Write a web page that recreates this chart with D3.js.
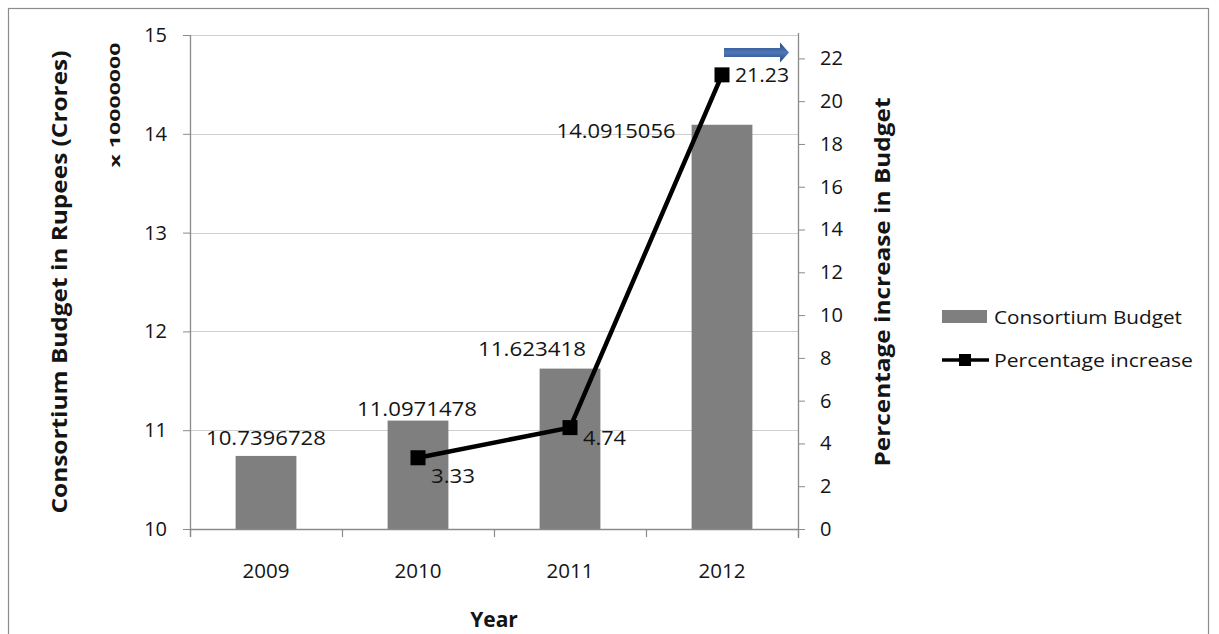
<!DOCTYPE html>
<html>
<head>
<meta charset="utf-8">
<script src="https://cdn.jsdelivr.net/npm/d3@7"></script>
<style>
  html, body { margin: 0; padding: 0; background: #fff; }
  svg { display: block; }
  text { font-family: "Open Sans", "Liberation Sans", sans-serif; fill: #141414; }
</style>
</head>
<body>
<svg id="chart" width="1219" height="634"></svg>
<script>
// ---- data ----
const years = ["2009", "2010", "2011", "2012"];
const budget = [10.7396728, 11.0971478, 11.623418, 14.0915056];
const budgetLabels = ["10.7396728", "11.0971478", "11.623418", "14.0915056"];
const pctYears = ["2010", "2011", "2012"];
const pctIncrease = [3.33, 4.74, 21.23];
const pctLabels = ["3.33", "4.74", "21.23"];
const leftTicks = [10, 11, 12, 13, 14, 15];
const rightTicks = [0, 2, 4, 6, 8, 10, 12, 14, 16, 18, 20, 22];
const seriesNames = ["Consortium Budget", "Percentage increase"];

// ---- layout ----
const L = 190, R = 798, T = 35, B = 529;
const barColor = "#7f7f7f";
const axisColor = "#8a8a8a";
const gridColor = "#cfcfcf";
const txt = "#141414";

const svg = d3.select("#chart");

// outer border
svg.append("rect").attr("x", 8.5).attr("y", 8.5).attr("width", 1200).attr("height", 640)
  .attr("fill", "none").attr("stroke", "#8c8c8c").attr("stroke-width", 1.2);

const x = d3.scaleBand().domain(years).range([L, R]).paddingInner(0.6).paddingOuter(0.3);
const yL = d3.scaleLinear().domain([10, 15]).range([B, T]);
const yR = d3.scaleLinear().domain([0, 23]).range([B, 37]);

// gridlines
svg.append("g").selectAll("line").data(leftTicks.filter(d => d > 10)).join("line")
  .attr("x1", L).attr("x2", R)
  .attr("y1", d => Math.round(yL(d)) + 0.5).attr("y2", d => Math.round(yL(d)) + 0.5)
  .attr("stroke", gridColor).attr("stroke-width", 1);

// bars
svg.append("g").selectAll("rect").data(years).join("rect")
  .attr("x", d => x(d))
  .attr("width", x.bandwidth())
  .attr("y", (d, i) => yL(budget[i]))
  .attr("height", (d, i) => B - yL(budget[i]))
  .attr("fill", barColor);

// left axis
const gLeft = svg.append("g").attr("transform", `translate(${L},0)`)
  .call(d3.axisLeft(yL).tickValues(leftTicks).tickSize(7).tickPadding(16).tickFormat(d3.format("d")));
gLeft.select(".domain").remove();
gLeft.selectAll(".tick line").attr("stroke", axisColor);
gLeft.selectAll(".tick text").attr("font-size", 20).attr("fill", txt)
  .style("font-family", '"Open Sans", sans-serif');
svg.append("line").attr("x1", L + 0.5).attr("x2", L + 0.5).attr("y1", T).attr("y2", B + 8)
  .attr("stroke", axisColor).attr("stroke-width", 1.3);

// right axis
const gRight = svg.append("g").attr("transform", `translate(${R},0)`)
  .call(d3.axisRight(yR).tickValues(rightTicks).tickSize(7).tickPadding(15).tickFormat(d3.format("d")));
gRight.select(".domain").remove();
gRight.selectAll(".tick line").attr("stroke", axisColor);
gRight.selectAll(".tick text").attr("font-size", 20).attr("fill", txt)
  .style("font-family", '"Open Sans", sans-serif');
svg.append("line").attr("x1", R + 0.5).attr("x2", R + 0.5).attr("y1", T - 2).attr("y2", B + 9)
  .attr("stroke", axisColor).attr("stroke-width", 1.3);

// x axis
svg.append("line").attr("x1", L).attr("x2", R).attr("y1", B + 0.5).attr("y2", B + 0.5)
  .attr("stroke", axisColor).attr("stroke-width", 1.3);
svg.append("g").selectAll("line").data(d3.range(years.length + 1)).join("line")
  .attr("x1", i => L + i * x.step() + 0.5).attr("x2", i => L + i * x.step() + 0.5)
  .attr("y1", B).attr("y2", B + 8)
  .attr("stroke", axisColor).attr("stroke-width", 1.2);
svg.append("g").selectAll("text").data(years).join("text")
  .attr("x", d => x(d) + x.bandwidth() / 2)
  .attr("y", 570)
  .attr("text-anchor", "middle").attr("dominant-baseline", "central")
  .attr("font-size", 20)
  .attr("textLength", 47).attr("lengthAdjust", "spacingAndGlyphs")
  .text(d => d);

// bar value labels (manual offsets as in the original)
const barLabelOffsets = [[0, -18, "middle"], [-1, -12, "middle"], [-38, -20, "middle"], [-46, 6, "end"]];
const barLabelLen = [120, 120, 108, 119];
svg.append("g").selectAll("text").data(years).join("text")
  .attr("x", (d, i) => {
    const o = barLabelOffsets[i];
    return o[2] === "end" ? x(d) + o[0] + 30 : x(d) + x.bandwidth() / 2 + o[0];
  })
  .attr("y", (d, i) => yL(budget[i]) + barLabelOffsets[i][1])
  .attr("text-anchor", (d, i) => barLabelOffsets[i][2])
  .attr("dominant-baseline", "central")
  .attr("font-size", 20)
  .attr("textLength", (d, i) => barLabelLen[i])
  .attr("lengthAdjust", "spacingAndGlyphs")
  .text((d, i) => budgetLabels[i]);

// percentage line
const cx = d => x(d) + x.bandwidth() / 2;
const line = d3.line().x(d => cx(d[0])).y(d => yR(d[1]));
const pts = pctYears.map((d, i) => [d, pctIncrease[i]]);
svg.append("path").datum(pts).attr("d", line)
  .attr("fill", "none").attr("stroke", "#000").attr("stroke-width", 4.5).attr("stroke-linejoin", "round");
const ms = 15;
svg.append("g").selectAll("rect").data(pts).join("rect")
  .attr("x", d => cx(d[0]) - ms / 2).attr("y", d => yR(d[1]) - ms / 2)
  .attr("width", ms).attr("height", ms).attr("fill", "#000");

const pctLabelDy = [18, 10, 0];
const pctLabelLen = [44, 43, 54];
svg.append("g").selectAll("text").data(pts).join("text")
  .attr("x", d => cx(d[0]) + 13)
  .attr("y", (d, i) => yR(d[1]) + pctLabelDy[i])
  .attr("dominant-baseline", "central")
  .attr("font-size", 20)
  .attr("textLength", (d, i) => pctLabelLen[i])
  .attr("lengthAdjust", "spacingAndGlyphs")
  .text((d, i) => pctLabels[i]);

// blue arrow
const defs = svg.append("defs");
const grad = defs.append("linearGradient").attr("id", "arrowGrad").attr("x1", 0).attr("y1", 0).attr("x2", 0).attr("y2", 1);
grad.append("stop").attr("offset", "0%").attr("stop-color", "#264782");
grad.append("stop").attr("offset", "50%").attr("stop-color", "#4f76b6");
grad.append("stop").attr("offset", "100%").attr("stop-color", "#264782");
const ax0 = 724, ax1 = 780, atip = 789, ay = 52.5;
svg.append("path")
  .attr("d", `M${ax0},${ay - 4.5} L${ax1},${ay - 4.5} L${ax1},${ay - 10} L${atip},${ay} L${ax1},${ay + 10} L${ax1},${ay + 4.5} L${ax0},${ay + 4.5} Z`)
  .attr("fill", "url(#arrowGrad)");

// axis titles
svg.append("text").attr("transform", "translate(59,282) rotate(-90)")
  .attr("text-anchor", "middle").attr("dominant-baseline", "central")
  .attr("font-size", 21).attr("font-weight", "bold")
  .attr("textLength", 463).attr("lengthAdjust", "spacingAndGlyphs")
  .text("Consortium Budget in Rupees (Crores)");
svg.append("text").attr("transform", "translate(114,105) rotate(-90)")
  .attr("text-anchor", "middle").attr("dominant-baseline", "central")
  .attr("font-size", 14).attr("font-weight", "bold")
  .attr("textLength", 125).attr("lengthAdjust", "spacingAndGlyphs")
  .text("x 10000000");
svg.append("text").attr("transform", "translate(882,282) rotate(-90)")
  .attr("text-anchor", "middle").attr("dominant-baseline", "central")
  .attr("font-size", 21).attr("font-weight", "bold")
  .attr("textLength", 369).attr("lengthAdjust", "spacingAndGlyphs")
  .text("Percentage increase in Budget");
svg.append("text").attr("x", (L + R) / 2).attr("y", 619)
  .attr("text-anchor", "middle").attr("dominant-baseline", "central")
  .attr("font-size", 21).attr("font-weight", "bold")
  .text("Year");

// legend
const lg = svg.append("g");
lg.append("rect").attr("x", 942).attr("y", 310).attr("width", 45).attr("height", 13).attr("fill", barColor);
lg.append("text").attr("x", 994).attr("y", 317).attr("dominant-baseline", "central")
  .attr("font-size", 19).attr("textLength", 188).attr("lengthAdjust", "spacingAndGlyphs")
  .text(seriesNames[0]);
lg.append("line").attr("x1", 942).attr("x2", 989).attr("y1", 360).attr("y2", 360)
  .attr("stroke", "#000").attr("stroke-width", 3.5);
lg.append("rect").attr("x", 959).attr("y", 354).attr("width", 12).attr("height", 12).attr("fill", "#000");
lg.append("text").attr("x", 994).attr("y", 360).attr("dominant-baseline", "central")
  .attr("font-size", 19).attr("textLength", 199).attr("lengthAdjust", "spacingAndGlyphs")
  .text(seriesNames[1]);
</script>
</body>
</html>
